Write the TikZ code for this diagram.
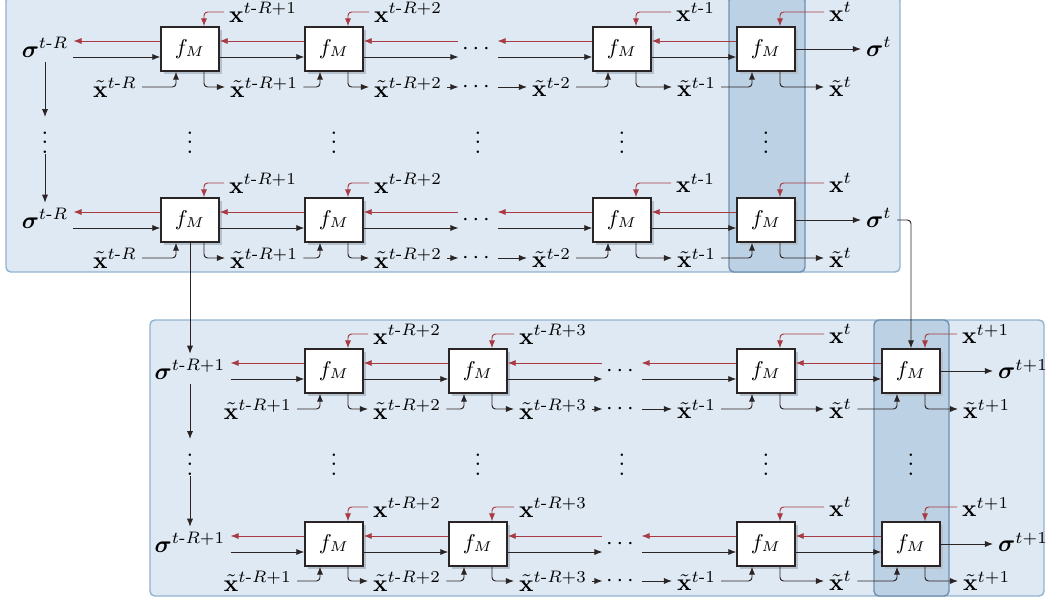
\documentclass[tikz,border=0pt]{standalone}
\usepackage{amsmath}
\usetikzlibrary{arrows.meta,shadows,calc}
\definecolor{pfill}{HTML}{DFE9F3}
\definecolor{pdraw}{HTML}{93B2D0}
\definecolor{hfill}{HTML}{BCD1E3}
\definecolor{hdraw}{HTML}{6F90B0}
\definecolor{myred}{HTML}{A83A44}
\definecolor{dark}{HTML}{2B2424}
\definecolor{shad}{HTML}{B4C0CC}
\newcommand{\vX}{\mathbf{x}}
\newcommand{\vTX}{\tilde{\mathbf{x}}}
\newcommand{\vSig}{\boldsymbol{\sigma}}
\newcommand{\mhy}{\text{-}}
\begin{document}
\begin{tikzpicture}[x=0.42pt,y=-0.42pt,
  fbox/.style={draw=dark, line width=0.5pt, fill=white, minimum width=24.4pt, minimum height=18.5pt, inner sep=0pt,
     font=\fontsize{9.2}{10}\selectfont,
     general shadow={fill=shad, shadow xshift=1.3pt, shadow yshift=-1.3pt}},
  lbl/.style={inner sep=2pt},
  hdots/.style={inner sep=0pt, minimum width=16pt, minimum height=8pt},
  vdotsn/.style={inner sep=0pt, minimum height=14.7pt, minimum width=4pt},
  fwd/.style={draw=dark, line width=0.4pt, rounded corners=1.5pt, -{Latex[length=3.4pt,width=2.6pt]}},
  bwd/.style={draw=myred, line width=0.4pt, rounded corners=1.5pt, -{Latex[length=3.4pt,width=2.6pt]}},
  panel/.style={fill=pfill, draw=pdraw, line width=0.6pt, rounded corners=2pt},
  hcol/.style={fill=hfill, draw=hdraw, line width=0.6pt, rounded corners=2pt}]
\useasboundingbox (0,0) rectangle (1046,599);
% panels
\path[panel] (6,-4) rectangle (900,272);
\path[hcol] (729,-4) rectangle (805,272);
\path[panel] (150,320) rectangle (1044,596);
\path[hcol] (874,320) rectangle (949,596);

% ===== top row 1 (cy=49)
\node[fbox] (a1) at (190,49) {$f_M$};
\node[fbox] (a2) at (334,49) {$f_M$};
\node[hdots] (a3) at (478,49) {$\cdots$};
\node[fbox] (a4) at (622,49) {$f_M$};
\node[fbox] (a5) at (766,49) {$f_M$};
\node[lbl] (sa) at (45,47) {$\vSig^{t\mhy R}$};
\node[lbl,anchor=west] (ra) at (861,47) {$\vSig^{t}$};
\node[lbl,anchor=west] (xa1) at (224,12) {$\vX^{t\mhy R+1}$};
\node[lbl,anchor=west] (xa2) at (369,12) {$\vX^{t\mhy R+2}$};
\node[lbl,anchor=west] (xa4) at (671,12) {$\vX^{t\mhy 1}$};
\node[lbl,anchor=west] (xa5) at (824,12) {$\vX^{t}$};
\node[lbl,anchor=east] (ta0) at (142,87) {$\vTX^{t\mhy R}$};
\node[lbl,anchor=west] (ta1) at (225,87) {$\vTX^{t\mhy R+1}$};
\node[lbl,anchor=west] (ta2) at (369,87) {$\vTX^{t\mhy R+2}$};
\node[hdots] (tad) at (478,87) {$\cdots$};
\node[lbl,anchor=west] (ta3) at (527,87) {$\vTX^{t\mhy 2}$};
\node[lbl,anchor=west] (ta4) at (672,87) {$\vTX^{t\mhy 1}$};
\node[lbl,anchor=west] (ta5) at (824,87) {$\vTX^{t}$};

\draw[bwd] ($(a1.west)+(0,-8)$) -- ($(a1.west -| sa.east)+(0,-8)$);
\draw[fwd] ($(a1.west -| sa.east)+(0,8)$) -- ($(a1.west)+(0,8)$);
\draw[bwd] ($(a2.west)+(0,-8)$) -- ($(a1.east)+(0,-8)$);
\draw[fwd] ($(a1.east)+(0,8)$) -- ($(a2.west)+(0,8)$);
\draw[bwd] ($(a3.west)+(0,-8)$) -- ($(a2.east)+(0,-8)$);
\draw[fwd] ($(a2.east)+(0,8)$) -- ($(a3.west)+(0,8)$);
\draw[bwd] ($(a4.west)+(0,-8)$) -- ($(a3.east)+(0,-8)$);
\draw[fwd] ($(a3.east)+(0,8)$) -- ($(a4.west)+(0,8)$);
\draw[bwd] ($(a5.west)+(0,-8)$) -- ($(a4.east)+(0,-8)$);
\draw[fwd] ($(a4.east)+(0,8)$) -- ($(a5.west)+(0,8)$);
\draw[fwd] (a5.east) -- (a5.east -| ra.west);
\draw[bwd] (xa1.west) -| ($(a1.north)+(14,0)$);
\draw[bwd] (xa2.west) -| ($(a2.north)+(14,0)$);
\draw[bwd] (xa4.west) -| ($(a4.north)+(14,0)$);
\draw[bwd] (xa5.west) -| ($(a5.north)+(14,0)$);
\draw[fwd] (ta0.east) -| ($(a1.south)+(-14,0)$);
\draw[fwd] ($(a1.south)+(14,0)$) |- (ta1.west);
\draw[fwd] (ta1.east) -| ($(a2.south)+(-14,0)$);
\draw[fwd] ($(a2.south)+(14,0)$) |- (ta2.west);
\draw[fwd] (ta2.east) -- (tad.west);
\draw[fwd] (tad.east) -- (ta3.west);
\draw[fwd] (ta3.east) -| ($(a4.south)+(-14,0)$);
\draw[fwd] ($(a4.south)+(14,0)$) |- (ta4.west);
\draw[fwd] (ta4.east) -| ($(a5.south)+(-14,0)$);
\draw[fwd] ($(a5.south)+(14,0)$) |- (ta5.west);

% vertical dots top
\node[vdotsn] (va) at (45,135.5) {$\vdots$};
\node[vdotsn] (va1) at (190,135.5) {$\vdots$};
\node[vdotsn] (va2) at (334,135.5) {$\vdots$};
\node[vdotsn] (va3) at (478,135.5) {$\vdots$};
\node[vdotsn] (va4) at (622,135.5) {$\vdots$};
\node[vdotsn] (va5) at (766,135.5) {$\vdots$};

% ===== top row 2 (cy=220)
\node[fbox] (b1) at (190,220) {$f_M$};
\node[fbox] (b2) at (334,220) {$f_M$};
\node[hdots] (b3) at (478,220) {$\cdots$};
\node[fbox] (b4) at (622,220) {$f_M$};
\node[fbox] (b5) at (766,220) {$f_M$};
\node[lbl] (sb) at (45,218) {$\vSig^{t\mhy R}$};
\node[lbl,anchor=west] (rb) at (861,218) {$\vSig^{t}$};
\node[lbl,anchor=west] (xb1) at (224,183) {$\vX^{t\mhy R+1}$};
\node[lbl,anchor=west] (xb2) at (369,183) {$\vX^{t\mhy R+2}$};
\node[lbl,anchor=west] (xb4) at (671,183) {$\vX^{t\mhy 1}$};
\node[lbl,anchor=west] (xb5) at (824,183) {$\vX^{t}$};
\node[lbl,anchor=east] (tb0) at (142,258) {$\vTX^{t\mhy R}$};
\node[lbl,anchor=west] (tb1) at (225,258) {$\vTX^{t\mhy R+1}$};
\node[lbl,anchor=west] (tb2) at (369,258) {$\vTX^{t\mhy R+2}$};
\node[hdots] (tbd) at (478,258) {$\cdots$};
\node[lbl,anchor=west] (tb3) at (527,258) {$\vTX^{t\mhy 2}$};
\node[lbl,anchor=west] (tb4) at (672,258) {$\vTX^{t\mhy 1}$};
\node[lbl,anchor=west] (tb5) at (824,258) {$\vTX^{t}$};

\draw[fwd] (sa) -- (va);
\draw[fwd] (va) -- (sb);

\draw[bwd] ($(b1.west)+(0,-8)$) -- ($(b1.west -| sb.east)+(0,-8)$);
\draw[fwd] ($(b1.west -| sb.east)+(0,8)$) -- ($(b1.west)+(0,8)$);
\draw[bwd] ($(b2.west)+(0,-8)$) -- ($(b1.east)+(0,-8)$);
\draw[fwd] ($(b1.east)+(0,8)$) -- ($(b2.west)+(0,8)$);
\draw[bwd] ($(b3.west)+(0,-8)$) -- ($(b2.east)+(0,-8)$);
\draw[fwd] ($(b2.east)+(0,8)$) -- ($(b3.west)+(0,8)$);
\draw[bwd] ($(b4.west)+(0,-8)$) -- ($(b3.east)+(0,-8)$);
\draw[fwd] ($(b3.east)+(0,8)$) -- ($(b4.west)+(0,8)$);
\draw[bwd] ($(b5.west)+(0,-8)$) -- ($(b4.east)+(0,-8)$);
\draw[fwd] ($(b4.east)+(0,8)$) -- ($(b5.west)+(0,8)$);
\draw[fwd] (b5.east) -- (b5.east -| rb.west);
\draw[bwd] (xb1.west) -| ($(b1.north)+(14,0)$);
\draw[bwd] (xb2.west) -| ($(b2.north)+(14,0)$);
\draw[bwd] (xb4.west) -| ($(b4.north)+(14,0)$);
\draw[bwd] (xb5.west) -| ($(b5.north)+(14,0)$);
\draw[fwd] (tb0.east) -| ($(b1.south)+(-14,0)$);
\draw[fwd] ($(b1.south)+(14,0)$) |- (tb1.west);
\draw[fwd] (tb1.east) -| ($(b2.south)+(-14,0)$);
\draw[fwd] ($(b2.south)+(14,0)$) |- (tb2.west);
\draw[fwd] (tb2.east) -- (tbd.west);
\draw[fwd] (tbd.east) -- (tb3.west);
\draw[fwd] (tb3.east) -| ($(b4.south)+(-14,0)$);
\draw[fwd] ($(b4.south)+(14,0)$) |- (tb4.west);
\draw[fwd] (tb4.east) -| ($(b5.south)+(-14,0)$);
\draw[fwd] ($(b5.south)+(14,0)$) |- (tb5.west);

% ===== bottom row 1 (cy=371)
\node[fbox] (c1) at (334,371) {$f_M$};
\node[fbox] (c2) at (478,371) {$f_M$};
\node[hdots] (c3) at (622,371) {$\cdots$};
\node[fbox] (c4) at (766,371) {$f_M$};
\node[fbox] (c5) at (911,371) {$f_M$};
\node[lbl] (sc) at (190,369) {$\vSig^{t\mhy R+1}$};
\node[lbl,anchor=west] (rc) at (993,369) {$\vSig^{t+1}$};
\node[lbl,anchor=west] (xc1) at (368,334) {$\vX^{t\mhy R+2}$};
\node[lbl,anchor=west] (xc2) at (514,334) {$\vX^{t\mhy R+3}$};
\node[lbl,anchor=west] (xc4) at (824,334) {$\vX^{t}$};
\node[lbl,anchor=west] (xc5) at (957,334) {$\vX^{t+1}$};
\node[lbl,anchor=east] (tc0) at (297,409) {$\vTX^{t\mhy R+1}$};
\node[lbl,anchor=west] (tc1) at (368,409) {$\vTX^{t\mhy R+2}$};
\node[lbl,anchor=west] (tc2) at (514,409) {$\vTX^{t\mhy R+3}$};
\node[hdots] (tcd) at (622,409) {$\cdots$};
\node[lbl,anchor=west] (tc3) at (672,409) {$\vTX^{t\mhy 1}$};
\node[lbl,anchor=west] (tc4) at (824,409) {$\vTX^{t}$};
\node[lbl,anchor=west] (tc5) at (958,409) {$\vTX^{t+1}$};

\draw[fwd] (b1) -- (sc);
\draw[fwd] (b5.east -| rb.east) -| (c5.north);

\draw[bwd] ($(c1.west)+(0,-8)$) -- ($(c1.west -| sc.east)+(0,-8)$);
\draw[fwd] ($(c1.west -| sc.east)+(0,8)$) -- ($(c1.west)+(0,8)$);
\draw[bwd] ($(c2.west)+(0,-8)$) -- ($(c1.east)+(0,-8)$);
\draw[fwd] ($(c1.east)+(0,8)$) -- ($(c2.west)+(0,8)$);
\draw[bwd] ($(c3.west)+(0,-8)$) -- ($(c2.east)+(0,-8)$);
\draw[fwd] ($(c2.east)+(0,8)$) -- ($(c3.west)+(0,8)$);
\draw[bwd] ($(c4.west)+(0,-8)$) -- ($(c3.east)+(0,-8)$);
\draw[fwd] ($(c3.east)+(0,8)$) -- ($(c4.west)+(0,8)$);
\draw[bwd] ($(c5.west)+(0,-8)$) -- ($(c4.east)+(0,-8)$);
\draw[fwd] ($(c4.east)+(0,8)$) -- ($(c5.west)+(0,8)$);
\draw[fwd] (c5.east) -- (c5.east -| rc.west);
\draw[bwd] (xc1.west) -| ($(c1.north)+(14,0)$);
\draw[bwd] (xc2.west) -| ($(c2.north)+(14,0)$);
\draw[bwd] (xc4.west) -| ($(c4.north)+(14,0)$);
\draw[bwd] (xc5.west) -| ($(c5.north)+(14,0)$);
\draw[fwd] (tc0.east) -| ($(c1.south)+(-14,0)$);
\draw[fwd] ($(c1.south)+(14,0)$) |- (tc1.west);
\draw[fwd] (tc1.east) -| ($(c2.south)+(-14,0)$);
\draw[fwd] ($(c2.south)+(14,0)$) |- (tc2.west);
\draw[fwd] (tc2.east) -- (tcd.west);
\draw[fwd] (tcd.east) -- (tc3.west);
\draw[fwd] (tc3.east) -| ($(c4.south)+(-14,0)$);
\draw[fwd] ($(c4.south)+(14,0)$) |- (tc4.west);
\draw[fwd] (tc4.east) -| ($(c5.south)+(-14,0)$);
\draw[fwd] ($(c5.south)+(14,0)$) |- (tc5.west);

% vertical dots bottom
\node[vdotsn] (vc) at (190,457.5) {$\vdots$};
\node[vdotsn] (vc1) at (334,457.5) {$\vdots$};
\node[vdotsn] (vc2) at (478,457.5) {$\vdots$};
\node[vdotsn] (vc3) at (622,457.5) {$\vdots$};
\node[vdotsn] (vc4) at (766,457.5) {$\vdots$};
\node[vdotsn] (vc5) at (911,457.5) {$\vdots$};

% ===== bottom row 2 (cy=544)
\node[fbox] (d1) at (334,544) {$f_M$};
\node[fbox] (d2) at (478,544) {$f_M$};
\node[hdots] (d3) at (622,544) {$\cdots$};
\node[fbox] (d4) at (766,544) {$f_M$};
\node[fbox] (d5) at (911,544) {$f_M$};
\node[lbl] (sd) at (190,542) {$\vSig^{t\mhy R+1}$};
\node[lbl,anchor=west] (rd) at (993,542) {$\vSig^{t+1}$};
\node[lbl,anchor=west] (xd1) at (368,507) {$\vX^{t\mhy R+2}$};
\node[lbl,anchor=west] (xd2) at (514,507) {$\vX^{t\mhy R+3}$};
\node[lbl,anchor=west] (xd4) at (824,507) {$\vX^{t}$};
\node[lbl,anchor=west] (xd5) at (957,507) {$\vX^{t+1}$};
\node[lbl,anchor=east] (td0) at (297,581) {$\vTX^{t\mhy R+1}$};
\node[lbl,anchor=west] (td1) at (368,581) {$\vTX^{t\mhy R+2}$};
\node[lbl,anchor=west] (td2) at (514,581) {$\vTX^{t\mhy R+3}$};
\node[hdots] (tdd) at (622,581) {$\cdots$};
\node[lbl,anchor=west] (td3) at (672,581) {$\vTX^{t\mhy 1}$};
\node[lbl,anchor=west] (td4) at (824,581) {$\vTX^{t}$};
\node[lbl,anchor=west] (td5) at (958,581) {$\vTX^{t+1}$};

\draw[fwd] (sc) -- (vc);
\draw[fwd] (vc) -- (sd);

\draw[bwd] ($(d1.west)+(0,-8)$) -- ($(d1.west -| sd.east)+(0,-8)$);
\draw[fwd] ($(d1.west -| sd.east)+(0,8)$) -- ($(d1.west)+(0,8)$);
\draw[bwd] ($(d2.west)+(0,-8)$) -- ($(d1.east)+(0,-8)$);
\draw[fwd] ($(d1.east)+(0,8)$) -- ($(d2.west)+(0,8)$);
\draw[bwd] ($(d3.west)+(0,-8)$) -- ($(d2.east)+(0,-8)$);
\draw[fwd] ($(d2.east)+(0,8)$) -- ($(d3.west)+(0,8)$);
\draw[bwd] ($(d4.west)+(0,-8)$) -- ($(d3.east)+(0,-8)$);
\draw[fwd] ($(d3.east)+(0,8)$) -- ($(d4.west)+(0,8)$);
\draw[bwd] ($(d5.west)+(0,-8)$) -- ($(d4.east)+(0,-8)$);
\draw[fwd] ($(d4.east)+(0,8)$) -- ($(d5.west)+(0,8)$);
\draw[fwd] (d5.east) -- (d5.east -| rd.west);
\draw[bwd] (xd1.west) -| ($(d1.north)+(14,0)$);
\draw[bwd] (xd2.west) -| ($(d2.north)+(14,0)$);
\draw[bwd] (xd4.west) -| ($(d4.north)+(14,0)$);
\draw[bwd] (xd5.west) -| ($(d5.north)+(14,0)$);
\draw[fwd] (td0.east) -| ($(d1.south)+(-14,0)$);
\draw[fwd] ($(d1.south)+(14,0)$) |- (td1.west);
\draw[fwd] (td1.east) -| ($(d2.south)+(-14,0)$);
\draw[fwd] ($(d2.south)+(14,0)$) |- (td2.west);
\draw[fwd] (td2.east) -- (tdd.west);
\draw[fwd] (tdd.east) -- (td3.west);
\draw[fwd] (td3.east) -| ($(d4.south)+(-14,0)$);
\draw[fwd] ($(d4.south)+(14,0)$) |- (td4.west);
\draw[fwd] (td4.east) -| ($(d5.south)+(-14,0)$);
\draw[fwd] ($(d5.south)+(14,0)$) |- (td5.west);
\end{tikzpicture}
\end{document}
